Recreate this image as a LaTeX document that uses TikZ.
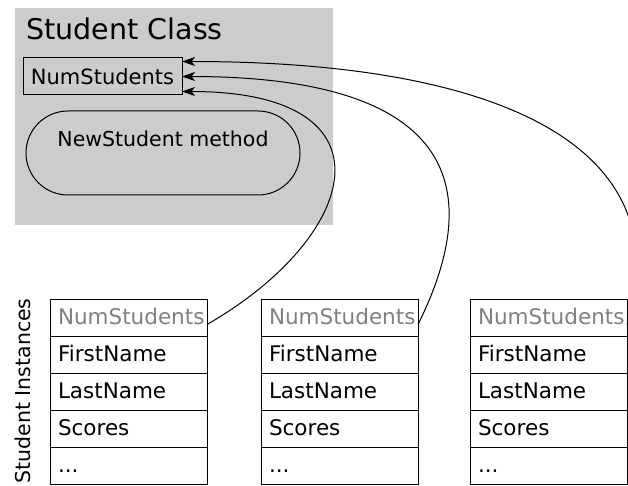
\documentclass[tikz,border=0pt]{standalone}
\usepackage{fontspec}
\setmainfont{DejaVu Sans}
\usetikzlibrary{arrows.meta,positioning}

\begin{document}
\begin{tikzpicture}[x=1pt,y=-1pt,line width=1pt,
 >={Stealth[length=13pt,width=9pt,inset=3.5pt]},
 cell/.style={draw,outer sep=0pt,inner xsep=8pt,inner ysep=0pt,
   minimum width=157pt,minimum height=37pt,text width=141pt,align=left,
   text height=15pt,text depth=1pt,font=\fontsize{21.5}{24}\selectfont}]
\useasboundingbox (0,0) rectangle (628,486);
% class area
\node[fill=gray!40,minimum width=318pt,minimum height=216pt,anchor=north west,inner sep=0pt] (cls) at (14,8) {};
\node[anchor=base west,inner sep=0pt,font=\fontsize{28.5}{30}\selectfont] (title) at (26,40) {Student Class};
\node[draw,outer sep=0pt,minimum width=159pt,minimum height=37pt,anchor=north west,
 font=\fontsize{21}{24}\selectfont] (num) at (23,58) {NumStudents};
\node[draw,rounded corners=42pt,outer sep=0pt,minimum width=274pt,minimum height=84pt,
 text height=15pt,text depth=27pt,anchor=north west,font=\fontsize{20.5}{22}\selectfont] (meth) at (26,111) {NewStudent method};
% instances
\node[rotate=90,anchor=base west,inner sep=0pt,font=\fontsize{20.5}{24}\selectfont] (inst) at (30,484) {Student Instances};
\foreach \i/\x in {1/50,2/261,3/470}{
  \node[cell,text=gray,anchor=north west] (i\i-num) at (\x,299) {NumStudents};
  \node[cell,below=0pt of i\i-num] (i\i-first) {FirstName};
  \node[cell,below=0pt of i\i-first] (i\i-last) {LastName};
  \node[cell,below=0pt of i\i-last] (i\i-scores) {Scores};
  \node[cell,below=0pt of i\i-scores] (i\i-more) {...};
}
\draw[->] (i1-num.base east) .. controls +(153,-88) and +(218,0) .. ([yshift=-15pt]num.east);
\draw[->] (i2-num.base east) .. controls +(78,-157) and +(248,0) .. (num.east);
\draw[->] (i3-num.base east) .. controls +(53,-172) and +(330,0) .. ([yshift=15pt]num.east);
\end{tikzpicture}
\end{document}
